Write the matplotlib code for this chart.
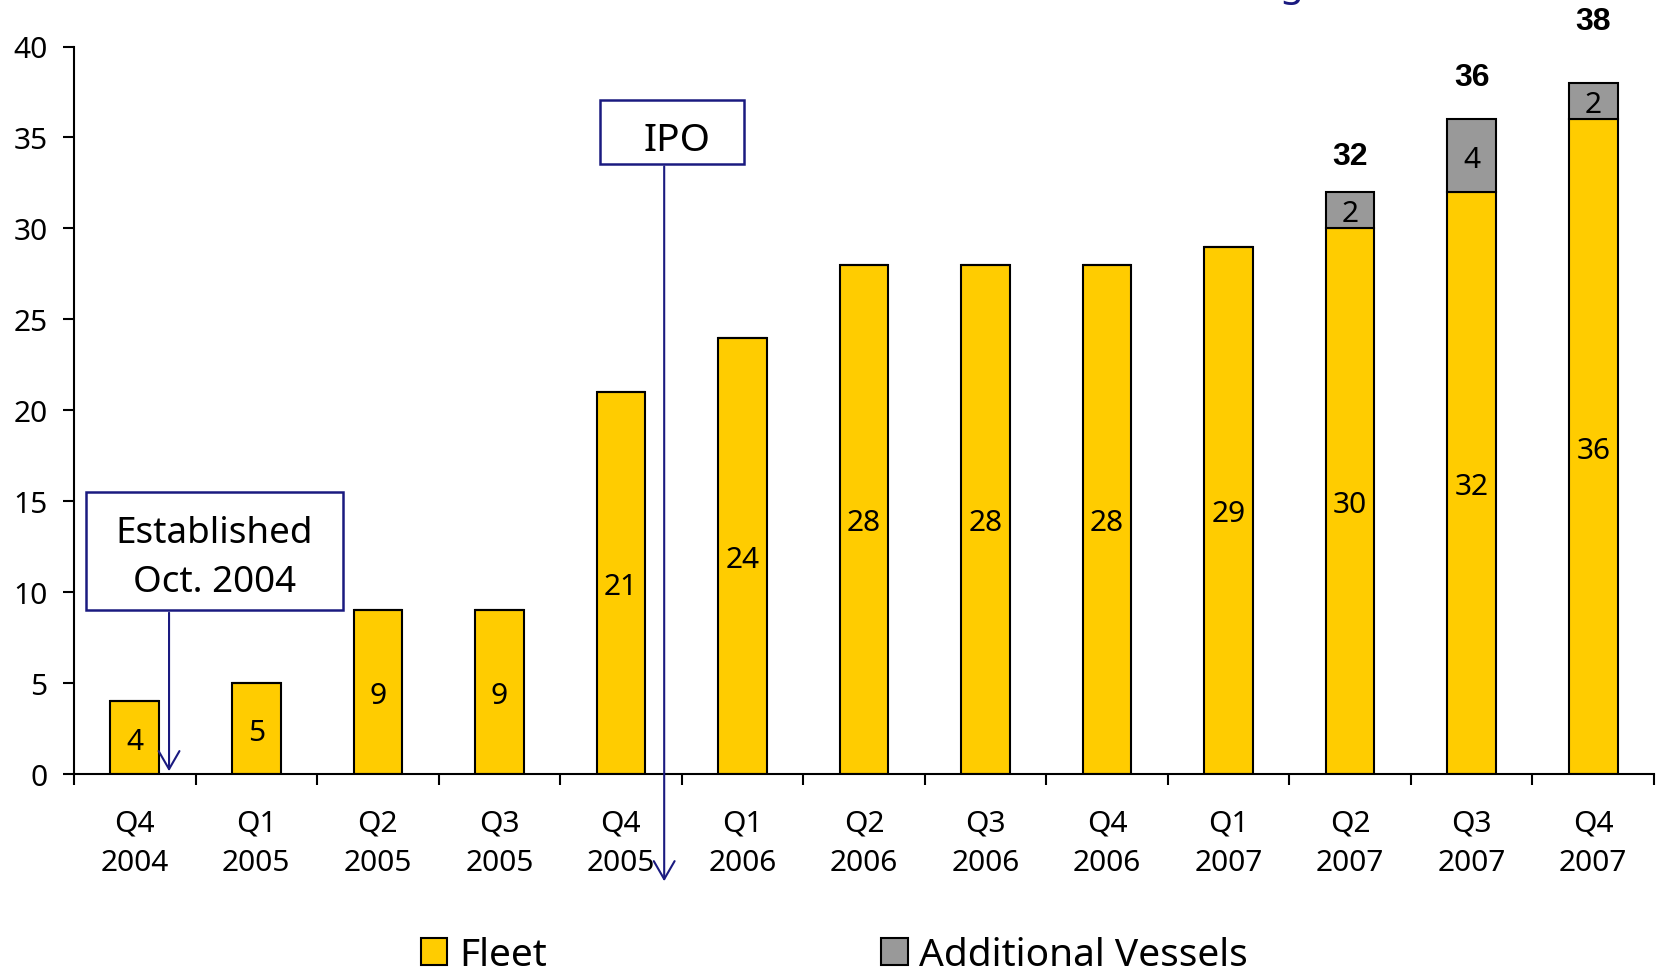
import numpy as np
import matplotlib.pyplot as plt
from matplotlib.patches import Patch, Rectangle

plt.rcParams['font.family'] = ['Noto Sans', 'DejaVu Sans']

quarters = ['Q4\n2004', 'Q1\n2005', 'Q2\n2005', 'Q3\n2005', 'Q4\n2005', 'Q1\n2006',
            'Q2\n2006', 'Q3\n2006', 'Q4\n2006', 'Q1\n2007', 'Q2\n2007', 'Q3\n2007', 'Q4\n2007']
fleet = [4, 5, 9, 9, 21, 24, 28, 28, 28, 29, 30, 32, 36]
additional = [0, 0, 0, 0, 0, 0, 0, 0, 0, 0, 2, 4, 2]

yellow = '#FFCC00'
grey = '#999999'
navy = '#1A1A80'

fig = plt.figure(figsize=(16.57, 9.70), dpi=100)
ax = fig.add_axes([74 / 1657, 1 - 775 / 970, 1580 / 1657, 727.5 / 970])

x = np.arange(len(quarters))
fleet = np.array(fleet)
additional = np.array(additional)
total = fleet + additional

ax.bar(x, fleet, width=0.4, color=yellow, edgecolor='black', linewidth=1.5, zorder=2)
ax.bar(x, additional, bottom=fleet, width=0.4, color=grey, edgecolor='black',
       linewidth=1.5, zorder=2)

# labels inside the bars
for xi, f, a in zip(x, fleet, additional):
    ax.text(xi, f / 2, str(f), ha='center', va='center_baseline', fontsize=21.5, zorder=3)
    if a > 0:
        ax.text(xi, f + a / 2, str(a), ha='center', va='center_baseline', fontsize=21.5,
                zorder=3)

# totals above the stacked bars
total_offsets = [20, 24.5, 39]
stacked = [i for i in x if additional[i] > 0]
for i, off in zip(stacked, total_offsets):
    ax.annotate(str(total[i]), (i, total[i]), xytext=(0, off), textcoords='offset points',
                ha='center', va='baseline', fontsize=23, fontweight='bold',
                family='Liberation Sans', annotation_clip=False)

ax.set_xlim(-0.5, len(quarters) - 0.5)
ax.set_ylim(0, 40)
ax.set_yticks(range(0, 41, 5))
ax.set_xticks(x)
ax.set_xticklabels(quarters, fontsize=21.5, linespacing=1.45)
ax.set_xticks(np.arange(-0.5, len(quarters)), minor=True)
ax.tick_params(axis='x', which='major', length=0, pad=25)
ax.tick_params(axis='x', which='minor', length=8, width=1.5, direction='out')
ax.tick_params(axis='y', length=8, width=1.5, pad=11, labelsize=21.5)

for s in ['top', 'right']:
    ax.spines[s].set_visible(False)
for s in ['left', 'bottom']:
    ax.spines[s].set_linewidth(1.5)

arrow = dict(arrowstyle='->,head_length=1.3,head_width=0.75', color=navy, lw=1.5)

# IPO callout
ax.add_patch(Rectangle((3.829, 33.56), 1.185, 3.49, fill=True, fc='white', ec=navy,
                       lw=1.8, clip_on=False, zorder=4))
ax.text(4.46, 34.33, 'IPO', ha='center', va='baseline', fontsize=28, zorder=5)
ax.annotate('', xy=(4.356, -6.05), xytext=(4.356, 33.56), arrowprops=arrow,
            annotation_clip=False, zorder=4)

# Established callout
ax.add_patch(Rectangle((-0.401, 9.02), 2.112, 6.5, fill=True, fc='white', ec=navy,
                       lw=1.8, clip_on=False, zorder=4))
ax.text(0.655, 12.76, 'Established', ha='center', va='baseline', fontsize=26.5, zorder=5)
ax.text(0.655, 10.07, 'Oct. 2004', ha='center', va='baseline', fontsize=26.5, zorder=5)
ax.annotate('', xy=(0.282, 0), xytext=(0.282, 9.02), arrowprops=arrow,
            annotation_clip=False, zorder=4)

# clipped title fragment at the very top
fig.text(1280 / 1657, 1 + 4 / 970, 'g', color=navy, fontsize=28, ha='left', va='baseline')

handles = [Patch(facecolor=yellow, edgecolor='black', linewidth=1.5, label='Fleet'),
           Patch(facecolor=grey, edgecolor='black', linewidth=1.5, label='Additional Vessels')]
fig.legend(handles=handles, loc='center left', bbox_to_anchor=(421 / 1657, 1 - 956 / 970),
           ncol=2, frameon=False, fontsize=28, handlelength=0.68, handleheight=0.68,
           handletextpad=0.3, columnspacing=8.6, borderpad=0, borderaxespad=0)

fig.savefig('out.png', dpi=100)
